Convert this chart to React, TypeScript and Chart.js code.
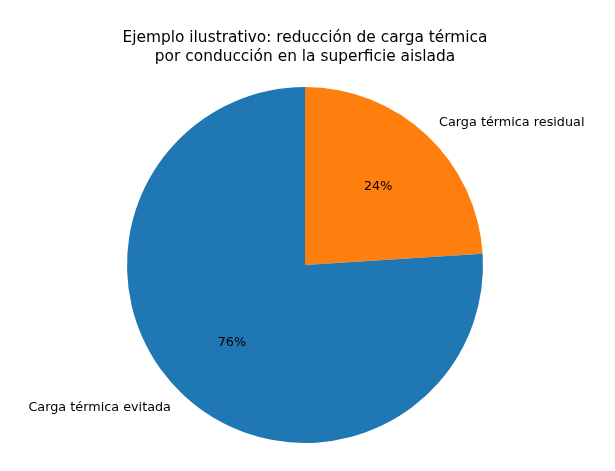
import React, { useEffect, useRef } from "react";
import { Chart, registerables } from "chart.js";

Chart.register(...registerables);

const categories = ["Carga térmica residual", "Carga térmica evitada"];
const values = [24, 76];
const colors = ["#ff7f0e", "#1f77b4"];
const titleLines = [
  "Ejemplo ilustrativo: reducción de carga térmica",
  "por conducción en la superficie aislada",
];

const FONT = "'DejaVu Sans', sans-serif";

const labelPlugin = {
  id: "pieLabels",
  afterDraw(chart: any) {
    const ctx = chart.ctx;
    const meta = chart.getDatasetMeta(0);
    const total = values.reduce((a, b) => a + b, 0);
    ctx.save();
    ctx.fillStyle = "#000";
    // title
    ctx.font = `15.4px ${FONT}`;
    ctx.textAlign = "center";
    ctx.textBaseline = "middle";
    const cxTitle = (chart.chartArea.left + chart.chartArea.right) / 2;
    ctx.fillText(titleLines[0], cxTitle, 38);
    ctx.fillText(titleLines[1], cxTitle, 57);
    meta.data.forEach((arc: any, i: number) => {
      const { x, y, startAngle, endAngle, outerRadius } = arc.getProps(
        ["x", "y", "startAngle", "endAngle", "outerRadius"],
        true
      );
      const mid = (startAngle + endAngle) / 2;
      const cos = Math.cos(mid);
      const sin = Math.sin(mid);
      ctx.font = `12.8px ${FONT}`;
      ctx.textBaseline = "middle";
      // percent
      ctx.textAlign = "center";
      const pct = Math.round((values[i] / total) * 100) + "%";
      ctx.fillText(pct, x + cos * outerRadius * 0.6, y + sin * outerRadius * 0.6);
      // outer label
      const lx = x + cos * outerRadius * 1.1;
      const ly = y + sin * outerRadius * 1.1;
      ctx.textAlign = cos >= 0 ? "left" : "right";
      ctx.fillText(categories[i], lx, ly);
    });
    ctx.restore();
  },
};

export default function App() {
  const ref = useRef<HTMLCanvasElement>(null);
  useEffect(() => {
    if (!ref.current) return;
    const chart = new Chart(ref.current, {
      type: "pie",
      data: {
        labels: categories,
        datasets: [
          {
            data: values,
            backgroundColor: colors,
            borderWidth: 0,
          },
        ],
      },
      options: {
        animation: false,
        responsive: false,
        devicePixelRatio: 1,
        layout: { padding: { top: 87, bottom: 28, left: 127, right: 132 } },
        plugins: {
          legend: { display: false },
          title: { display: false },
          tooltip: { enabled: false },
        },
      },
      plugins: [labelPlugin],
    });
    return () => chart.destroy();
  }, []);
  return (
    <div style={{ position: "fixed", left: 0, top: 0, width: 615, height: 471, background: "#fff" }}>
      <canvas ref={ref} width={615} height={471} style={{ width: 615, height: 471 }} />
    </div>
  );
}
